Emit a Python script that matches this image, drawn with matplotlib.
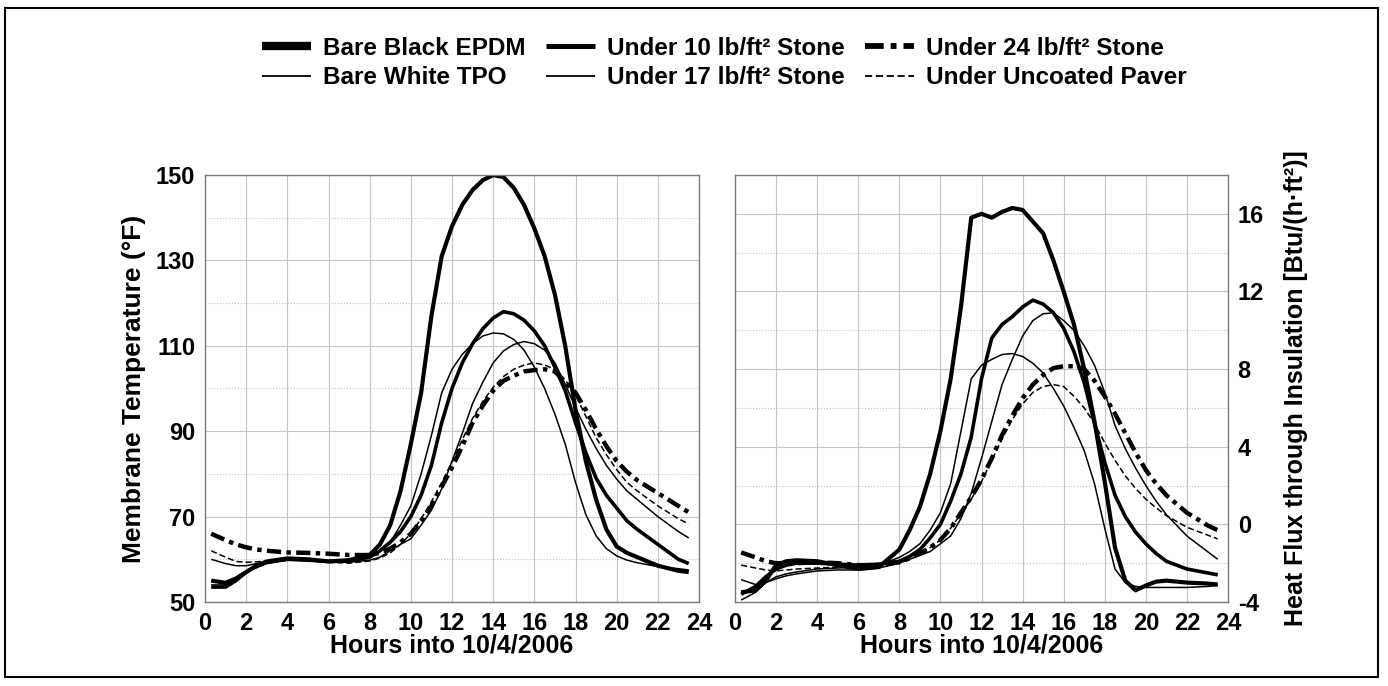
import matplotlib
matplotlib.use("Agg")
import matplotlib.pyplot as plt
from matplotlib.patches import Rectangle

# hours shared by all series
hours = [0.3, 1, 1.5, 2, 2.5, 3, 4, 5, 6, 7, 8, 8.5, 9, 9.5, 10, 10.5, 11, 11.5,
         12, 12.5, 13, 13.5, 14, 14.5, 15, 15.5, 16, 16.5, 17, 17.5, 18, 18.5,
         19, 19.5, 20, 20.5, 21, 22, 23, 23.5]

# membrane temperature (F)
t_epdm = [55, 54.5, 55.5, 57, 58.5, 59.5, 60.2, 60, 59.5, 59.8, 61, 63.5, 68, 76,
          87, 99, 117, 131, 138, 143, 146.5, 148.8, 150, 149.5, 147, 143, 137.5,
          131, 122, 110, 95, 83, 74, 67, 63, 61.5, 60.5, 58.5, 57.3, 57]
t_10lb = [53.5, 53.5, 55, 57, 58.5, 59.3, 60, 59.8, 59.5, 59.6, 60.5, 62, 64, 66.5,
          70, 75, 82, 92, 100, 106, 110.5, 114, 116.5, 118, 117.5, 116, 113.5,
          110, 105, 99.5, 92, 85, 79, 75, 72, 69, 67, 63.5, 60, 59]
t_tpo = [54, 54, 55.5, 57, 58, 59, 59.8, 59.7, 59.4, 59.4, 60.5, 62, 64, 68, 72.5,
         80, 89, 99, 104.5, 108, 110.5, 112.3, 113, 112.8, 111.5, 109, 105, 100,
         94, 87, 78, 70.5, 65.5, 62.5, 60.8, 59.8, 59.2, 58.3, 57.8, 57.5]
t_17lb = [60, 59, 58.5, 58.5, 59, 59.3, 59.8, 59.8, 59.4, 59.3, 59.8, 60.5, 62,
          63.5, 64.8, 68, 71.5, 76.5, 83, 89.5, 96.5, 101.5, 106, 108.8, 110.3,
          111, 110.5, 109, 106, 101, 95.5, 90.5, 86, 82, 78.8, 76, 74, 70, 66.5, 65]
t_24lb = [66, 64.5, 63.5, 62.8, 62.3, 62, 61.6, 61.5, 61.3, 61, 61, 61.5, 62.5, 64,
          66, 69, 72.5, 77, 81.5, 86.5, 92, 96, 99.5, 101.8, 103, 104, 104.3,
          104.5, 104, 101.5, 99, 95, 90.5, 86.5, 83, 80.5, 78.5, 75.5, 72.5, 71]
t_paver = [62, 60.5, 59.5, 59.3, 59.4, 59.6, 60, 59.8, 59.3, 59.1, 59.6, 60.3, 61.5,
           63.5, 66, 69.5, 73.5, 78, 82.8, 88, 93, 97, 100.3, 102.8, 104.5, 105.5,
           106, 105.5, 104.5, 102, 98.5, 93.5, 88.5, 84.5, 81, 78, 76, 72.5, 69.5, 68.3]

# heat flux through insulation (Btu/(h ft2))
q_epdm = [-3.5, -3.4, -2.9, -2.1, -1.9, -1.85, -1.9, -2.1, -2.3, -2.2, -1.3, -0.3,
          0.9, 2.6, 4.8, 7.5, 11.2, 15.8, 16.0, 15.8, 16.1, 16.3, 16.2, 15.6, 15.0,
          13.6, 12.0, 10.3, 8.0, 5.3, 2.2, -1.2, -2.9, -3.4, -3.15, -2.95, -2.9,
          -3.0, -3.05, -3.1]
q_10lb = [-3.6, -3.2, -2.7, -2.3, -2.1, -2.0, -2.0, -2.05, -2.1, -2.05, -1.9, -1.65,
          -1.3, -0.7, 0.0, 1.2, 2.6, 4.5, 7.5, 9.6, 10.3, 10.7, 11.2, 11.55, 11.35,
          10.9, 10.1, 8.9, 7.3, 5.2, 3.2, 1.5, 0.4, -0.4, -1.0, -1.5, -1.9, -2.3,
          -2.5, -2.6]
q_tpo = [-3.9, -3.5, -3.0, -2.7, -2.55, -2.45, -2.3, -2.25, -2.2, -2.1, -1.7, -1.4,
         -1.0, -0.3, 0.6, 2.1, 4.8, 7.5, 8.2, 8.5, 8.75, 8.8, 8.65, 8.3, 7.8, 7.0,
         6.1, 5.0, 3.8, 2.1, -0.2, -2.3, -3.0, -3.2, -3.25, -3.25, -3.25, -3.25,
         -3.2, -3.15]
q_17lb = [-2.85, -3.1, -3.0, -2.8, -2.65, -2.55, -2.4, -2.35, -2.35, -2.25, -2.0,
          -1.8, -1.6, -1.4, -1.0, -0.6, 0.3, 1.6, 3.4, 5.3, 7.2, 8.5, 9.7, 10.5,
          10.85, 10.9, 10.5, 10.0, 9.2, 8.2, 6.8, 5.1, 3.9, 2.9, 2.0, 1.2, 0.5,
          -0.6, -1.4, -1.8]
q_24lb = [-1.45, -1.7, -1.9, -2.0, -2.0, -2.0, -1.95, -2.0, -2.1, -2.1, -1.95, -1.75,
          -1.5, -1.2, -0.8, -0.2, 0.6, 1.4, 2.3, 3.4, 4.6, 5.6, 6.5, 7.2, 7.7, 8.05,
          8.15, 8.15, 8.0, 7.4, 6.6, 5.7, 4.7, 3.7, 2.8, 2.1, 1.5, 0.6, -0.05, -0.3]
q_paver = [-2.1, -2.25, -2.35, -2.4, -2.35, -2.3, -2.25, -2.2, -2.2, -2.1, -1.9,
           -1.7, -1.5, -1.2, -0.8, -0.2, 0.55, 1.3, 2.2, 3.3, 4.4, 5.4, 6.2, 6.8,
           7.1, 7.2, 7.1, 6.6, 6.0, 5.2, 4.2, 3.3, 2.5, 1.85, 1.3, 0.85, 0.45,
           -0.15, -0.55, -0.75]

labels = ["Bare Black EPDM", "Bare White TPO", "Under 10 lb/ft² Stone",
          "Under 17 lb/ft² Stone", "Under 24 lb/ft² Stone", "Under Uncoated Paver"]
temps = [t_epdm, t_tpo, t_10lb, t_17lb, t_24lb, t_paver]
fluxes = [q_epdm, q_tpo, q_10lb, q_17lb, q_24lb, q_paver]

# (linewidth, dashes, legend linewidth)
styles = [(3.0, None, 6.0), (1.1, None, 1.3), (2.6, None, 3.6),
          (1.1, None, 1.3), (3.2, (3.2, 1.2, 1, 1.2), 4.2), (1.1, (4, 2), 1.3)]

plt.rcParams["font.family"] = ["Liberation Sans", "DejaVu Sans"]
plt.rcParams["font.weight"] = "bold"
plt.rcParams["axes.unicode_minus"] = False

fig = plt.figure(figsize=(13.88, 6.86), dpi=100)
W, H = 1388, 686
ax1 = fig.add_axes([205 / W, 1 - 602 / H, 494 / W, 427 / H])
ax2 = fig.add_axes([735 / W, 1 - 602 / H, 493 / W, 427 / H])

handles = []
for ax, data in ((ax1, temps), (ax2, fluxes)):
    for y, lab, (lw, dash, _) in zip(data, labels, styles):
        ln, = ax.plot(hours, y, color="black", lw=lw, label=lab,
                      solid_capstyle="butt", dash_capstyle="butt")
        if dash:
            ln.set_dashes(dash)
        if ax is ax1:
            handles.append(ln)

for ax in (ax1, ax2):
    ax.set_xlim(0, 24)
    ax.set_xticks(range(0, 25, 2))
    ax.grid(which="major", color="#c4c4c4", lw=0.8, ls="-")
    ax.grid(which="minor", axis="y", color="#c4c4c4", lw=0.8, ls=":")
    ax.tick_params(which="both", length=0, labelsize=17, pad=7)
    for s in ax.spines.values():
        s.set_color("#7a7a7a")
        s.set_linewidth(1.0)
    ax.set_xlabel("Hours into 10/4/2006", fontsize=18, fontweight="bold", labelpad=-1)
    ax.set_axisbelow(True)

ax1.set_ylim(50, 150)
ax1.set_yticks([50, 70, 90, 110, 130, 150])
ax1.set_yticks([60, 80, 100, 120, 140], minor=True)
ax1.set_ylabel("Membrane Temperature (°F)", fontsize=19, fontweight="bold", labelpad=7)

ax2.set_ylim(-4, 18)
ax2.yaxis.tick_right()
ax2.yaxis.set_label_position("right")
ax2.set_yticks([-4, 0, 4, 8, 12, 16])
ax2.set_yticks([-2, 2, 6, 10, 14, 18], minor=True)
ax2.set_ylabel("Heat Flux through Insulation [Btu/(h·ft²)]", fontsize=18,
               fontweight="bold", labelpad=14)

leg = fig.legend(handles, labels, ncol=3, loc="upper left",
                 bbox_to_anchor=(262 / W, 1 - 37 / H), frameon=False,
                 fontsize=17.5, handlelength=2.0, handletextpad=0.5,
                 columnspacing=0.85, labelspacing=0.25, borderpad=0, borderaxespad=0)
for lh, (_, _, llw) in zip(leg.legend_handles, styles):
    lh.set_linewidth(llw)

fig.patches.append(Rectangle((5 / W, 1 - 677 / H), 1373 / W, 669 / H,
                             transform=fig.transFigure, fill=False,
                             edgecolor="black", lw=1.5))

fig.savefig("out.png", dpi=100)
